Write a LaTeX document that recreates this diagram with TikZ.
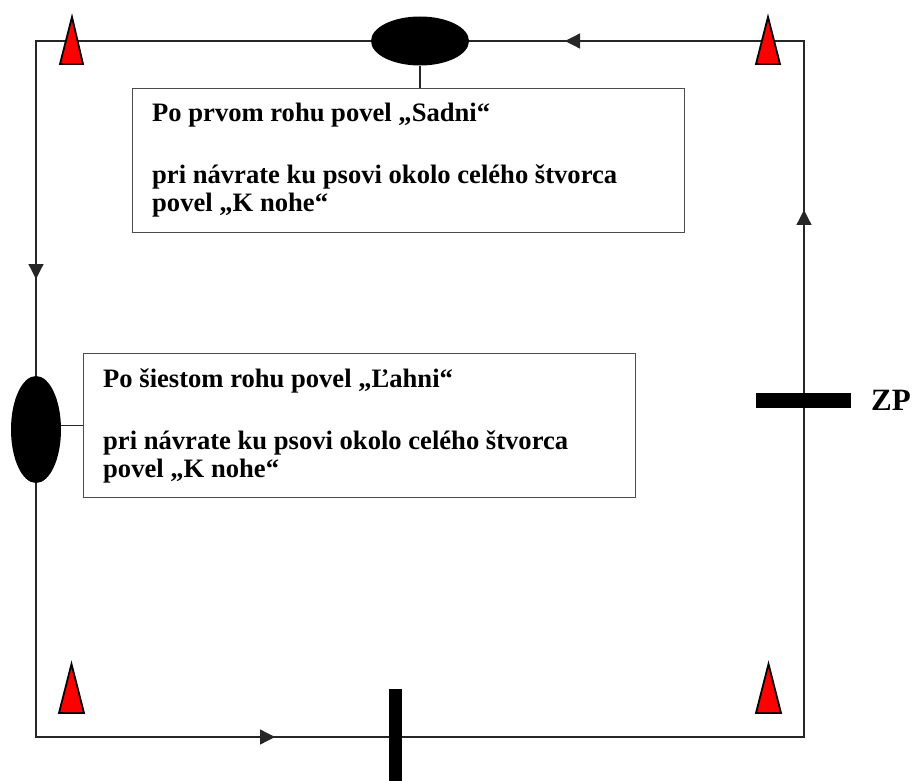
\documentclass[tikz,border=0pt]{standalone}
\usepackage{fontspec}
\setmainfont{Liberation Serif}
\usetikzlibrary{shapes.geometric,arrows.meta,decorations.markings}
\begin{document}
\begin{tikzpicture}[x=1pt,y=-1pt,
  track/.style={draw=black!85,line width=1.3pt},
  cone/.style={fill=red,draw=black,line width=1.8pt,line join=miter},
  dogmark/.style={ellipse,fill=black,inner sep=0pt},
  notebox/.style={rectangle,draw=black!70,line width=1.2pt,inner sep=0pt,minimum width=552pt,minimum height=144pt},
  notetext/.style={anchor=base west,inner sep=0pt,font=\fontsize{26.6}{30.6}\selectfont\bfseries},
  tipmark/.style={-{Triangle[length=15pt,width=15pt]}},
  barshape/.style={fill=black}
]
\useasboundingbox (0,0) rectangle (914,781);
% the square track with direction marks
\draw[track,postaction={decorate},decoration={markings,
   mark=at position 239pt with {\arrow{Triangle[length=15pt,width=15pt]}},
   mark=at position 1295pt with {\arrow{Triangle[length=15pt,width=15pt]}},
   mark=at position 1703pt with {\arrow{Triangle[length=15pt,width=15pt]}},
   mark=at position 2470pt with {\arrow{Triangle[length=15pt,width=15pt]}}}]
  (36,737) -- (804,737) -- (804,41) -- (36,41) -- cycle;
% cones
\filldraw[cone] (72,17) -- (83,64) -- (60,64) -- cycle;
\filldraw[cone] (768,17) -- (780,64) -- (756,64) -- cycle;
\filldraw[cone] (71.5,664) -- (84,713) -- (59,713) -- cycle;
\filldraw[cone] (768.5,664) -- (781,713) -- (756,713) -- cycle;
% bars
\fill[barshape] (389,689) rectangle (402,781);
\fill[barshape] (756,393) rectangle (851,408);
\node[notetext,font=\fontsize{31}{36}\selectfont\bfseries] (zp) at (871,410) {ZP};
% dog positions
\node[dogmark,minimum width=98pt,minimum height=49pt] (tell) at (420,41) {};
\node[dogmark,minimum width=50pt,minimum height=107pt] (lell) at (36,429.5) {};
% boxes
\node[notebox,anchor=north west] (box1) at (132,88) {};
\node[notebox,anchor=north west] (box2) at (83,353) {};
\draw[track,line width=1.5pt] (tell.south) -- (tell.south |- box1.north);
\draw[track,line width=1.5pt] (lell.east |- box2.west) -- (box2.west);
% texts
\node[notetext] (t11) at (152,122) {Po prvom rohu povel „Sadni“};
\node[notetext] (t12) at (152,184) {pri návrate ku psovi okolo celého štvorca};
\node[notetext] (t13) at (152,212) {povel „K nohe“};
\node[notetext] (t21) at (103,387) {Po šiestom rohu povel „Ľahni“};
\node[notetext] (t22) at (103,449) {pri návrate ku psovi okolo celého štvorca};
\node[notetext] (t23) at (103,477) {povel „K nohe“};
\end{tikzpicture}
\end{document}
